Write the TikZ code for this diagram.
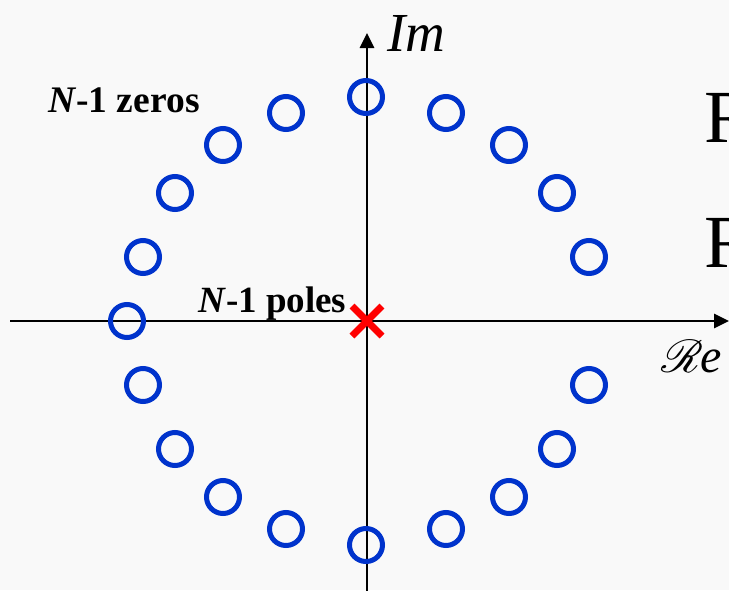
\documentclass[tikz,border=0pt]{standalone}
\usepackage{fontspec}
\usepackage{mathrsfs}
\setmainfont{Liberation Serif}
\usetikzlibrary{arrows.meta,shapes.misc}

\definecolor{zeroblue}{RGB}{0,51,204}
\definecolor{polered}{RGB}{255,0,0}
\definecolor{paper}{RGB}{249,249,249}

\tikzset{
  zero/.style={circle, draw=zeroblue, line width=5pt, minimum size=33pt, inner sep=0pt},
  pole/.style={cross out, draw=polered, line width=7pt, minimum size=30pt, inner sep=0pt, outer sep=0pt},
  axis/.style={line width=2.7pt, -{Triangle[length=15pt,width=14pt]}},
  lbl/.style={inner sep=0pt, anchor=base west}
}

\begin{document}
\begin{tikzpicture}[x=1pt,y=-1pt]
    \useasboundingbox (0,0) rectangle (729,590);
    \clip (0,0) rectangle (729,590);
    \fill [paper] (0,0) rectangle (729,590);
    % axes
    \coordinate (west) at (10,321);
    \coordinate (east) at (729,321);
    \coordinate (south) at (367,592);
    \coordinate (north) at (367,33);
    \draw [axis] (west) -- (east);
    \draw [axis] (south) -- (north);
    % zeros
    \foreach \p [count=\i] in {(366,97),(286,113),(223,145),(175,193),(143,257),
        (127,321),(143,385),(175,449),(223,497),(286,529),(366,545),(446,529),
        (509,497),(557,449),(589,385),(589,257),(557,193),(509,145),(446,113)}
        \node [zero] (z\i) at \p {};
    % pole
    \node [pole] (p1) at (367,321) {};
    % labels
    \node [lbl] (zeros) at (48,112) {\fontsize{37.5}{40}\selectfont\bfseries\textit{N}-1 zeros};
    \node [lbl] (poles) at (198,312) {\fontsize{37}{40}\selectfont\bfseries\textit{N}-1 poles};
    \node [lbl] (im) at (387,51) {\fontsize{55}{60}\selectfont\textit{Im}};
    \node [lbl] (re) at (661,372) {\scalebox{4.6}{$\mathscr{R}$}\kern-3pt\fontsize{48}{50}\selectfont\textit{e}};
    \node [lbl] (r1) at (704,142) {\fontsize{75}{80}\selectfont R};
    \node [lbl] (r2) at (704,267) {\fontsize{75}{80}\selectfont R};
\end{tikzpicture}
\end{document}
